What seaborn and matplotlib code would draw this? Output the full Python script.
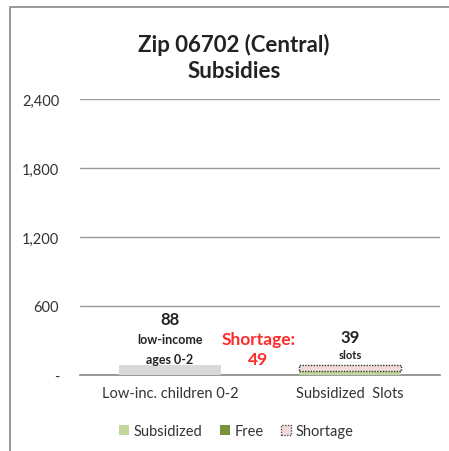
import matplotlib
matplotlib.use("Agg")
import matplotlib.pyplot as plt
from matplotlib.patches import Rectangle, Patch
import seaborn as sns
import pandas as pd

categories = ["Low-inc. children 0-2", "Subsidized  Slots"]
children = [88, 0]
subsidized = [0, 39]
free = [0, 0]
shortage = [0, 49]
yticks = [0, 600, 1200, 1800, 2400]
ytick_labels = ["-", "600", "1,200", "1,800", "2,400"]

sns.set_theme(style="white")
plt.rcParams["font.family"] = ["Lato", "DejaVu Sans"]

df = pd.DataFrame({"cat": categories, "children": children, "subsidized": subsidized,
                   "free": free, "shortage": shortage})
df["base_free"] = df["subsidized"]
df["base_short"] = df["subsidized"] + df["free"]

fig = plt.figure(figsize=(4.49, 4.52), dpi=100)
ax = fig.add_axes([80/449, (452-376)/452, 360/449, (376-100)/452])

W = 0.57
sns.barplot(data=df, x="cat", y="children", color="#d9d9d9", width=W, ax=ax,
            saturation=1, edgecolor="none", linewidth=0, zorder=3)
sns.barplot(data=df, x="cat", y="subsidized", color="#c3d69b", width=W, ax=ax,
            saturation=1, edgecolor="none", linewidth=0, zorder=3)
sns.barplot(data=df, x="cat", y="free", color="#77933c", width=W, ax=ax,
            saturation=1, edgecolor="none", linewidth=0, zorder=3, bottom=df["base_free"].values)
sns.barplot(data=df, x="cat", y="shortage", color="#f2dcdb", width=W, ax=ax,
            saturation=1, edgecolor="#333333", linewidth=1, linestyle=(0, (1, 1)),
            zorder=3, bottom=df["base_short"].values)
for p in ax.patches:
    if p.get_height() == 0:
        p.set_visible(False)

ax.set_ylim(0, 2400)
ax.set_xlim(-0.5, 1.5)
ax.set_yticks(yticks)
ax.set_yticklabels(ytick_labels, fontsize=10.5, color="#333333")
ax.yaxis.grid(True, color="#999999", linewidth=1)
ax.set_axisbelow(True)
ax.tick_params(axis="y", length=0, pad=15)
ax.tick_params(axis="x", length=0, pad=8, labelsize=10.5, labelcolor="#333333")
ax.set_xlabel("")
ax.set_ylabel("")
for s in ["left", "right", "top"]:
    ax.spines[s].set_visible(False)
ax.spines["bottom"].set_color("#888888")
ax.spines["bottom"].set_linewidth(1.2)

# annotations
ax.text(0, 487, "88", ha="center", va="center", fontsize=12, fontweight="bold", color="#222222")
ax.text(0, 313, "low-income", ha="center", va="center", fontsize=9, fontweight="bold", color="#222222")
ax.text(0, 139, "ages 0-2", ha="center", va="center", fontsize=9, fontweight="bold", color="#222222")
ax.text(0.49, 313, "Shortage:", ha="center", va="center", fontsize=12.5, fontweight="bold", color="#ff2a2a")
ax.text(0.49, 139, "49", ha="center", va="center", fontsize=12.5, fontweight="bold", color="#ff2a2a")
ax.text(1, 330, "39", ha="center", va="center", fontsize=12, fontweight="bold", color="#222222")
ax.text(1, 180, "slots", ha="center", va="center", fontsize=8, fontweight="bold", color="#222222")

fig.text(234/449, 1-45/452, "Zip 06702 (Central)", ha="center", va="center",
         fontsize=16, fontweight="bold", color="#222222")
fig.text(234/449, 1-72/452, "Subsidies", ha="center", va="center",
         fontsize=16, fontweight="bold", color="#222222")

handles = [Patch(facecolor="#c3d69b", edgecolor="none", label="Subsidized"),
           Patch(facecolor="#77933c", edgecolor="none", label="Free"),
           Patch(facecolor="#f2dcdb", edgecolor="#555555", linestyle=(0, (1, 1)), label="Shortage")]
fig.legend(handles=handles, loc="center", bbox_to_anchor=(236/449, 1-432/452), ncol=3,
           frameon=False, fontsize=10.5, handlelength=0.7, handleheight=0.7,
           handletextpad=0.3, columnspacing=1.2, labelcolor="#333333")

fig.add_artist(Rectangle((10/449, -0.05), 1.1, 1-8/452+0.05, transform=fig.transFigure,
                         fill=False, edgecolor="#888888", linewidth=1.2))

fig.savefig("out.png", dpi=100, facecolor="white")
